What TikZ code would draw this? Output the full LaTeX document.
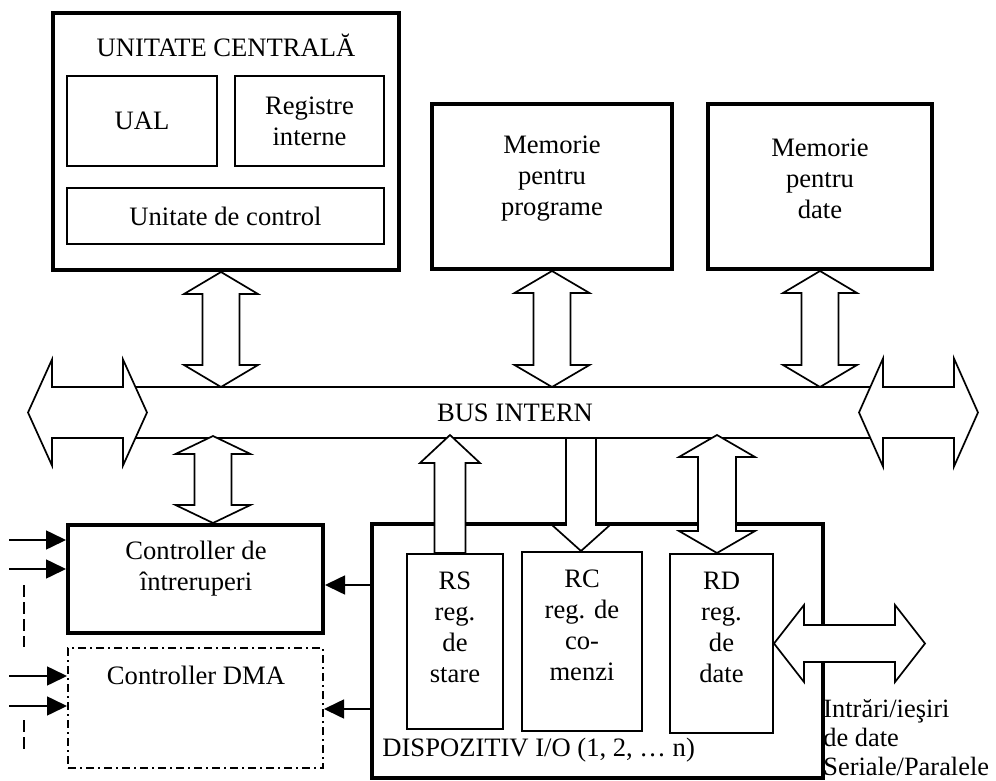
\documentclass[tikz,border=0pt]{standalone}
\usepackage{fontspec}
\setmainfont{Liberation Serif}
\usetikzlibrary{arrows.meta,calc}

% block arrows: #1/#2 end points, #3 head half width, #4 shaft half width, #5 head length
\newcommand{\blkvv}[5]{%
  \draw[blockarrow] (#1) -- ++(#3,#5) -- ++(#4-#3,0) -- ($(#2)+(#4,-#5)$) -- ++(#3-#4,0)
    -- (#2) -- ++(-#3,-#5) -- ++(#3-#4,0) -- ($(#1)+(-#4,#5)$) -- ++(#4-#3,0) -- cycle;}
\newcommand{\blkhh}[5]{%
  \draw[blockarrow] (#1) -- ++(#5,-#3) -- ++(0,#3-#4) -- ($(#2)+(-#5,-#4)$) -- ++(0,#4-#3)
    -- (#2) -- ++(-#5,#3) -- ++(0,#4-#3) -- ($(#1)+(#5,#4)$) -- ++(0,#3-#4) -- cycle;}
\newcommand{\blkup}[5]{%
  \draw[blockarrow] (#1) -- ++(#3,#5) -- ++(#4-#3,0) -- ($(#2)+(#4,0)$) -- ($(#2)+(-#4,0)$)
    -- ($(#1)+(-#4,#5)$) -- ++(#4-#3,0) -- cycle;}
\newcommand{\blkdown}[5]{%
  \draw[blockarrow] (#1) -- ++(#3,-#5) -- ++(#4-#3,0) -- ($(#2)+(#4,0)$) -- ($(#2)+(-#4,0)$)
    -- ($(#1)+(-#4,-#5)$) -- ++(#4-#3,0) -- cycle;}

\begin{document}
\begin{tikzpicture}[x=0.5pt, y=-0.5pt,
    every node/.style={font=\fontsize{13.3pt}{15.5pt}\selectfont},
    box/.style={draw, rectangle, line width=1pt, align=center, inner sep=0pt},
    bigbox/.style={draw, rectangle, line width=2pt, inner sep=0pt},
    txt/.style={align=center, inner sep=0pt},
    blockarrow/.style={draw, fill=white, line width=0.85pt, line join=miter},
    sigarrow/.style={line width=0.8pt, -{Triangle[length=10pt, width=9.5pt]}},
    busline/.style={line width=0.8pt}]
    \useasboundingbox (0,0) rectangle (996,781);

    % Objects
    \node[bigbox, minimum width=173pt, minimum height=128.5pt] (cpu) at (226,141.5) {};
    \node[txt] (cputitle) at (226,45) {UNITATE CENTRALĂ};
    \node[box, minimum width=75pt, minimum height=45pt] (ual) at (142,121) {UAL};
    \node[box, minimum width=74.5pt, minimum height=45pt] (regs) at (309.5,121) {Registre\\interne};
    \node[box, minimum width=158.5pt, minimum height=28pt] (ctrl) at (225.5,216) {Unitate de control};
    \node[bigbox, minimum width=120pt, minimum height=82.5pt] (memprog) at (552,186.5) {};
    \node[txt] (memprogtxt) at (552,178.5) {Memorie\\pentru\\programe};
    \node[bigbox, minimum width=112pt, minimum height=82.5pt] (memdata) at (820,186.5) {};
    \node[txt] (memdatatxt) at (820,178.5) {Memorie\\pentru\\date};
    \node[bigbox, minimum width=127.5pt, minimum height=54pt] (intc) at (195.5,579) {};
    \node[txt] (intctxt) at (196,569) {Controller de\\întreruperi};
    \node[box, dash pattern=on 4pt off 2pt on 1pt off 2pt, minimum width=127.5pt, minimum height=60pt] (dma) at (195.5,708) {};
    \node[txt] (dmatxt) at (196,675) {Controller DMA};
    \node[bigbox, minimum width=225.5pt, minimum height=127pt] (dev) at (597.5,651) {};
    \node[box, minimum width=48pt, minimum height=87.5pt] (rs) at (455,641.5) {};
    \node[box, minimum width=60pt, minimum height=89.5pt] (rc) at (582,641.5) {};
    \node[box, minimum width=51.5pt, minimum height=89.5pt] (rd) at (721.5,643.5) {};

    % Bus
    \coordinate (busNW) at (128,387);
    \coordinate (busNE) at (875,387);
    \coordinate (busSW) at (128,438);
    \coordinate (busSE) at (875,438);
    \draw[busline] (busNW) -- (busNE) (busSW) -- (busSE);
    \coordinate (busLw) at (28,412.5);
    \coordinate (busLe) at (147,412.5);
    \coordinate (busRw) at (859,412.5);
    \coordinate (busRe) at (978,412.5);
    \blkhh{busLw}{busLe}{53}{25.5}{24}
    \blkhh{busRw}{busRe}{54}{25.5}{24}

    % Links to the bus
    \coordinate (bUC) at (221,387);
    \coordinate (bMP) at (552,387);
    \coordinate (bMD) at (820,387);
    \coordinate (bIC) at (213,436);
    \coordinate (bRS) at (450,435);
    \coordinate (bRC) at (581,438);
    \coordinate (bRD) at (717,435);
    \coordinate (ioEnd) at (925,643.5);
    \blkvv{bUC |- cpu.south}{bUC}{37}{18.5}{22}
    \blkvv{bMP |- memprog.south}{bMP}{37.5}{18.5}{22}
    \blkvv{bMD |- memdata.south}{bMD}{37}{18.5}{22}
    \blkvv{bIC}{bIC |- intc.north}{37.5}{18.5}{18}
    \blkup{bRS}{bRS |- rs.north}{30}{15.5}{28}
    \blkdown{bRC |- rc.north}{bRC}{29}{15}{26}
    \blkvv{bRD}{bRD |- rd.north}{38}{19}{22}
    \blkhh{rd.east}{rd.east -| ioEnd}{38.5}{18.5}{30}

    % Request lines
    \coordinate (irq1) at (9,540);
    \coordinate (irq2) at (9,569);
    \coordinate (dreq1) at (9,676);
    \coordinate (dreq2) at (9,706);
    \draw[sigarrow] (irq1) -- (irq1 -| intc.west);
    \draw[sigarrow] (irq2) -- (irq2 -| intc.west);
    \draw[sigarrow] (dreq1) -- (dreq1 -| dma.west);
    \draw[sigarrow] (dreq2) -- (dreq2 -| dma.west);
    \draw[line width=0.8pt, dash pattern=on 6pt off 2.5pt] (24,585) -- (24,647);
    \draw[line width=0.8pt, dash pattern=on 6pt off 2.5pt] (24,720) -- (24,752);
    \coordinate (irq) at (371,585);
    \coordinate (dreq) at (371,709);
    \draw[sigarrow] (irq) -- (irq -| intc.east);
    \draw[sigarrow] (dreq) -- (dreq -| dma.east);

    % Labels
    \node[txt] (busname) at (515,413) {BUS INTERN};
    \node[txt] (rstxt) at (455,627) {RS\\reg.\\de\\stare};
    \node[txt] (rctxt) at (582,625) {RC\\reg. de\\co-\\menzi};
    \node[txt] (rdtxt) at (721.5,627) {RD\\reg.\\de\\date};
    \node[txt, anchor=west] (devname) at (382,750) {DISPOZITIV I/O (1, 2, … n)};
    \node[txt, align=left, anchor=west, font=\fontsize{13.2pt}{14.5pt}\selectfont] (iotxt) at (823,738) {Intrări/ieşiri\\de date\\Seriale/Paralele};
\end{tikzpicture}
\end{document}
